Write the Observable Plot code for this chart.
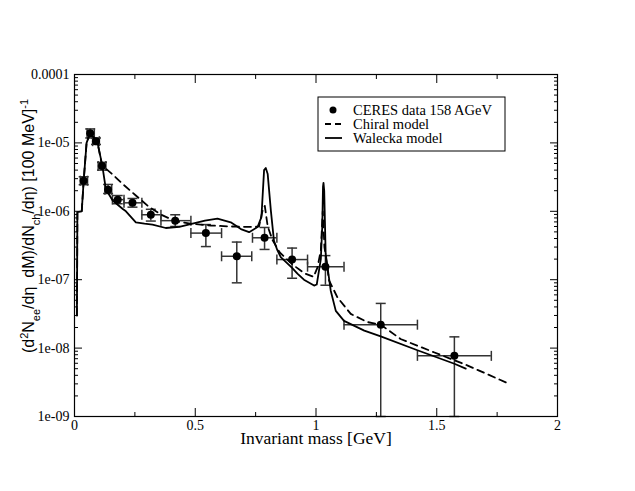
<!DOCTYPE html>
<html><head><meta charset="utf-8">
<script src="https://cdn.jsdelivr.net/npm/d3@7"></script>
<script src="https://cdn.jsdelivr.net/npm/@observablehq/plot@0.6"></script>
<style>body{margin:0;background:#fff}#chart{width:635px;height:491px}</style>
</head><body><div id="chart"></div>
<script>
// CERES data 158 AGeV
const ceresX   = [0.038,0.065,0.089,0.114,0.139,0.179,0.240,0.316,0.417,0.544,0.672,0.787,0.901,1.039,1.268,1.573];
const ceresY   = [2.8e-6,1.38e-5,1.06e-5,4.6e-6,2.06e-6,1.48e-6,1.33e-6,8.9e-7,7.3e-7,4.8e-7,2.2e-7,4.1e-7,1.97e-7,1.55e-7,2.2e-8,7.7e-9];
const ceresXlo = [0.024,0.052,0.075,0.098,0.126,0.157,0.205,0.279,0.358,0.482,0.609,0.737,0.838,0.965,1.116,1.420];
const ceresXhi = [0.054,0.082,0.103,0.130,0.154,0.205,0.279,0.358,0.482,0.609,0.734,0.838,0.965,1.116,1.420,1.726];
const ceresYlo = [2.45e-6,1.18e-5,9.5e-6,4.0e-6,1.82e-6,1.29e-6,1.15e-6,7.2e-7,6.0e-7,3.05e-7,9.0e-8,2.77e-7,1.05e-7,8.3e-8,1e-9,1e-9];
const ceresYhi = [3.2e-6,1.6e-5,1.18e-5,5.2e-6,2.47e-6,1.7e-6,1.54e-6,1.07e-6,8.9e-7,6.4e-7,3.55e-7,5.8e-7,2.9e-7,2.25e-7,4.5e-8,1.46e-8];

// Walecka model (solid)
const waleckaX = [0.010,0.012,0.030,0.038,0.050,0.065,0.080,0.095,0.115,0.130,0.158,0.200,0.213,0.254,0.290,0.323,0.378,0.434,0.489,0.540,0.592,0.647,0.689,0.723,0.758,0.774,0.785,0.792,0.800,0.813,0.826,0.840,0.854,0.900,0.923,0.950,0.992,1.003,1.020,1.026,1.029,1.031,1.034,1.040,1.061,1.082,1.116,1.200,1.268,1.420,1.573,1.620];
const waleckaY = [3.0e-8,9.7e-7,1.0e-6,2.8e-6,1.0e-5,1.4e-5,1.2e-5,1.02e-5,4.7e-6,2.1e-6,1.44e-6,1.08e-6,1.0e-6,6.9e-7,6.6e-7,6.4e-7,5.7e-7,5.9e-7,6.6e-7,7.3e-7,7.8e-7,6.9e-7,5.5e-7,4.95e-7,5.9e-7,8.2e-7,4.0e-6,4.3e-6,3.5e-6,1.03e-6,3.7e-7,2.7e-7,2.14e-7,1.5e-7,1.23e-7,1.0e-7,8.2e-8,8.5e-8,2.0e-7,6.0e-7,2.3e-6,2.6e-6,2.0e-6,2.4e-7,6.9e-8,3.5e-8,2.5e-8,1.8e-8,1.48e-8,9.3e-9,5.9e-9,5.0e-9];

// Chiral model (dashed)
const chiralX = [0.010,0.012,0.030,0.038,0.050,0.065,0.080,0.095,0.114,0.130,0.160,0.200,0.254,0.310,0.365,0.420,0.480,0.565,0.647,0.730,0.764,0.778,0.788,0.800,0.820,0.850,0.900,0.950,0.990,1.006,1.020,1.028,1.035,1.054,1.089,1.144,1.213,1.268,1.350,1.488,1.626,1.800];
const chiralY = [3.0e-8,9.7e-7,1.0e-6,2.8e-6,1.0e-5,1.4e-5,1.2e-5,1.02e-5,4.7e-6,4.2e-6,3.4e-6,2.5e-6,1.7e-6,1.15e-6,8.7e-7,7.1e-7,6.6e-7,6.2e-7,6.0e-7,5.9e-7,6.0e-7,1.0e-6,1.2e-6,6.0e-7,3.8e-7,2.5e-7,1.7e-7,1.25e-7,1.1e-7,1.5e-7,2.7e-7,1.0e-6,3.0e-7,9.8e-8,5.5e-8,3.16e-8,2.4e-8,2.2e-8,1.36e-8,8.7e-9,5.6e-9,3.0e-9];

// ticks
const xMajor = [0,0.5,1,1.5,2];
const xMajorLabels = ["0","0.5","1","1.5","2"];
const xMinor = [0.25,0.75,1.25,1.75];
const yMajor = [1e-9,1e-8,1e-7,1e-6,1e-5,1e-4];
const yMajorLabels = ["1e-09","1e-08","1e-07","1e-06","1e-05","0.0001"];
const yMinor = d3.range(-9,-4).flatMap(e => d3.range(2,10).map(m => m*Math.pow(10,e)));

const ceres = ceresX.map((x,i)=>({x, y:ceresY[i], xlo:ceresXlo[i], xhi:ceresXhi[i], ylo:ceresYlo[i], yhi:ceresYhi[i]}));
const walecka = waleckaX.map((x,i)=>({x, y:waleckaY[i]}));
const chiral = chiralX.map((x,i)=>({x, y:chiralY[i]}));

const capH = {draw(ctx, size){ const r = Math.sqrt(size/Math.PI); ctx.moveTo(-r,0); ctx.lineTo(r,0); }};
const capV = {draw(ctx, size){ const r = Math.sqrt(size/Math.PI); ctx.moveTo(0,-r); ctx.lineTo(0,r); }};

const serifCss = "'Liberation Serif', 'Times New Roman', serif";
const tickCol = "black";
const ebCol = "#333";

const plot = Plot.plot({
  width: 635, height: 491,
  marginLeft: 74, marginRight: 78, marginTop: 74, marginBottom: 75,
  style: {background: "white"},
  x: {domain: [0,2]},
  y: {type: "log", domain: [1e-9,1e-4]},
  marks: [
    // error bars
    Plot.ruleX(ceres, {x:"x", y1:"ylo", y2:"yhi", stroke: ebCol, strokeWidth: 1.5}),
    Plot.ruleY(ceres, {y:"y", x1:"xlo", x2:"xhi", stroke: ebCol, strokeWidth: 1.5}),
    Plot.dot(ceres, {x:"x", y:"yhi", symbol: capH, r: 5, stroke: ebCol, strokeWidth: 1.5, fill: "none"}),
    Plot.dot(ceres, {x:"x", y:"ylo", symbol: capH, r: 5, stroke: ebCol, strokeWidth: 1.5, fill: "none"}),
    Plot.dot(ceres, {x:"xlo", y:"y", symbol: capV, r: 5, stroke: ebCol, strokeWidth: 1.5, fill: "none"}),
    Plot.dot(ceres, {x:"xhi", y:"y", symbol: capV, r: 5, stroke: ebCol, strokeWidth: 1.5, fill: "none"}),
    // model curves
    Plot.line(chiral, {x:"x", y:"y", stroke:"black", strokeWidth: 1.8, strokeDasharray: "7,5"}),
    Plot.line(walecka, {x:"x", y:"y", stroke:"black", strokeWidth: 1.8}),
    Plot.dot(ceres, {x:"x", y:"y", r: 4, fill: "black"}),
    // inward ticks
    Plot.axisX(xMajor, {anchor:"bottom", tickSize:-8, tickFormat: () => "", label: null, stroke: tickCol}),
    Plot.axisX(xMinor, {anchor:"bottom", tickSize:-4, tickFormat: () => "", label: null, stroke: tickCol}),
    Plot.axisX(xMajor, {anchor:"top", tickSize:-8, tickFormat: () => "", label: null, stroke: tickCol}),
    Plot.axisX(xMinor, {anchor:"top", tickSize:-4, tickFormat: () => "", label: null, stroke: tickCol}),
    Plot.axisY(yMajor, {anchor:"left", tickSize:-8, tickFormat: () => "", label: null, stroke: tickCol}),
    Plot.axisY(yMinor, {anchor:"left", tickSize:-4, tickFormat: () => "", label: null, stroke: tickCol}),
    Plot.axisY(yMajor, {anchor:"right", tickSize:-8, tickFormat: () => "", label: null, stroke: tickCol}),
    Plot.axisY(yMinor, {anchor:"right", tickSize:-4, tickFormat: () => "", label: null, stroke: tickCol}),
    // tick labels
    Plot.axisX(xMajor, {anchor:"bottom", tickSize:0, tickPadding:4, fontSize:14, fill:"black", tickFormat: d => xMajorLabels[xMajor.indexOf(d)], label: null}),
    Plot.axisY(yMajor, {anchor:"left", tickSize:0, tickPadding:5, fontSize:14, fill:"black", tickFormat: d => yMajorLabels[yMajor.indexOf(d)], label: null}),
    Plot.frame({stroke:"black", strokeWidth: 1.2}),
    Plot.text(["Invariant mass [GeV]"], {frameAnchor:"bottom", dy: 22, fontSize: 17.5, fill:"black", lineAnchor:"middle"})
  ]
});
document.getElementById("chart").appendChild(plot);

const svg = d3.select(plot);
// serif font for Plot's tick labels and axis title
svg.selectAll("g[aria-label='x-axis tick label'] text, g[aria-label='y-axis tick label'] text, g[aria-label='text'] text")
  .style("font-family", serifCss);

// y-axis title
const yt = svg.append("text")
  .attr("transform", "translate(34,226) rotate(-90)")
  .attr("text-anchor", "middle")
  .style("font-family", "'Liberation Sans', Arial, sans-serif")
  .attr("font-size", 16)
  .attr("fill", "black");
yt.append("tspan").text("(d");
yt.append("tspan").attr("baseline-shift","super").attr("font-size",11).text("2");
yt.append("tspan").text("N");
yt.append("tspan").attr("baseline-shift","sub").attr("font-size",11).text("ee");
yt.append("tspan").text("/dη  dM)/dN");
yt.append("tspan").attr("baseline-shift","sub").attr("font-size",11).text("ch");
yt.append("tspan").text("/dη) [100 MeV]");
yt.append("tspan").attr("baseline-shift","super").attr("font-size",11).text("-1");

// legend
const lg = svg.append("g").style("font-family", serifCss).attr("font-size", 14.5).attr("fill","black").attr("text-anchor","start");
lg.append("rect").attr("x",318).attr("y",97).attr("width",187).attr("height",54).attr("fill","white").attr("stroke","black").attr("stroke-width",1);
lg.append("circle").attr("cx",333).attr("cy",110).attr("r",3.5).attr("fill","black");
lg.append("line").attr("x1",325).attr("x2",342).attr("y1",124).attr("y2",124).attr("stroke","black").attr("stroke-width",1.8).attr("stroke-dasharray","6,4");
lg.append("line").attr("x1",325).attr("x2",342).attr("y1",138).attr("y2",138).attr("stroke","black").attr("stroke-width",1.8);
lg.append("text").attr("x",353).attr("y",114.5).text("CERES data 158 AGeV");
lg.append("text").attr("x",353).attr("y",128.5).text("Chiral model");
lg.append("text").attr("x",353).attr("y",142.5).text("Walecka model");
</script></body></html>
